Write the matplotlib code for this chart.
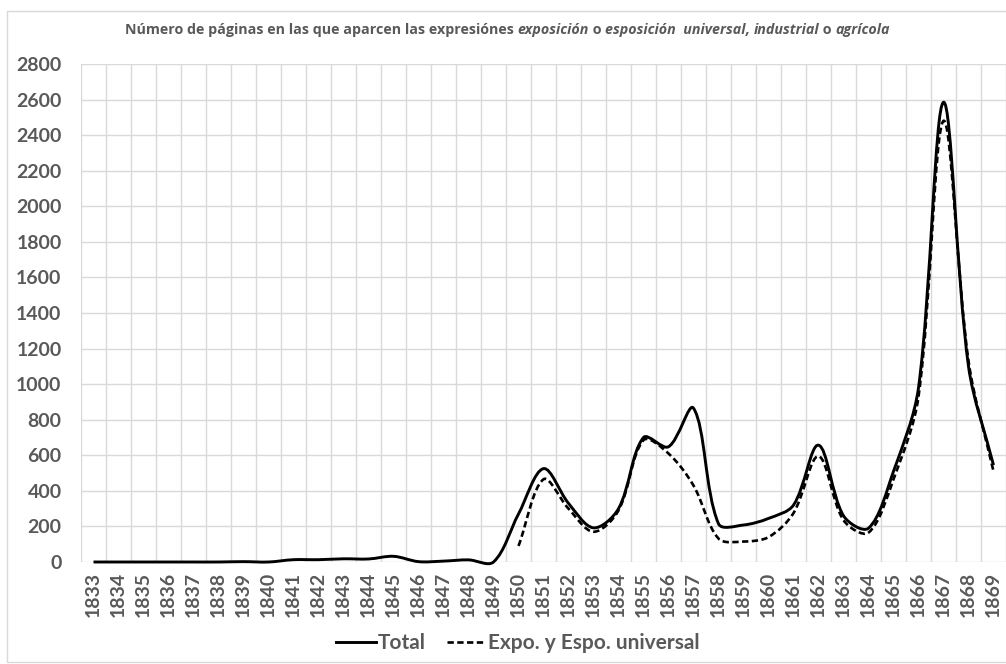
import matplotlib
matplotlib.use("Agg")
import numpy as np
import matplotlib.pyplot as plt
from matplotlib.path import Path
from matplotlib.patches import PathPatch, Rectangle
from matplotlib.lines import Line2D

plt.rcParams['font.family'] = ['Lato', 'DejaVu Sans']

# ---------------- data ----------------
years = list(range(1833, 1870))
total = [0, 0, 0, 0, 0, 0, 2, 0, 13, 13, 18, 17, 32, 2, 5, 12, 0,
         270, 525, 330, 192, 300, 700, 648, 865, 215, 208, 245, 320,
         657, 260, 190, 510, 980, 2585, 1100, 545]
expo_years = list(range(1850, 1870))
expo = [90, 465, 300, 170, 290, 685, 610, 430, 132, 115, 140, 275,
        595, 235, 165, 465, 930, 2480, 1130, 510]
yticks = list(range(0, 2801, 200))
series_names = ["Total", "Expo. y Espo. universal"]

GRAY = "#595959"
GRID = "#d9d9d9"

W, H = 1006, 664
X0, X1, Y0, Y1 = 81, 1006, 562, 64
fig = plt.figure(figsize=(W / 100, H / 100), dpi=100)
ax = fig.add_axes([X0 / W, (H - Y0) / H, (X1 - X0) / W, (Y0 - Y1) / H])
ax.set_xlim(-0.5, len(years) - 0.5)
ax.set_ylim(0, 2800)

# pixel scale factors (smoothing computed in screen space, like Excel)
sx = (X1 - X0) / len(years)
sy = (Y0 - Y1) / 2800.0

def smooth_path(xs, ys):
    P = np.column_stack([np.asarray(xs, float) * sx, np.asarray(ys, float) * sy])
    n = len(P)
    seg = [np.hypot(*(P[i + 1] - P[i])) for i in range(n - 1)]
    fwd, bwd = [], []
    for i in range(n):
        a = P[i - 1] if i > 0 else P[i]
        b = P[i + 1] if i < n - 1 else P[i]
        d = b - a
        lb = seg[i - 1] if i > 0 else 0.0
        lf = seg[i] if i < n - 1 else 0.0
        s = lb + lf
        if s == 0:
            fwd.append(np.zeros(2)); bwd.append(np.zeros(2)); continue
        fwd.append(d * lf / s / 3.0)
        bwd.append(d * lb / s / 3.0)
    verts = [P[0]]
    codes = [Path.MOVETO]
    for i in range(n - 1):
        c1 = P[i] + fwd[i]
        c2 = P[i + 1] - bwd[i + 1]
        verts += [c1, c2, P[i + 1]]
        codes += [Path.CURVE4] * 3
    V = np.array(verts)
    V[:, 0] /= sx
    V[:, 1] /= sy
    return Path(V, codes)

xi_total = [years.index(y) for y in years]
xi_expo = [years.index(y) for y in expo_years]

solid_kw = dict(color="black", lw=2.1, linestyle="-")
dash_kw = dict(color="black", lw=1.9, linestyle=(0, (2.4, 1.3)))

p1 = PathPatch(smooth_path(xi_total, total), fill=False, edgecolor="black",
               lw=solid_kw["lw"], capstyle="butt", joinstyle="round", clip_on=False, zorder=4)
p2 = PathPatch(smooth_path(xi_expo, expo), fill=False, edgecolor="black",
               lw=dash_kw["lw"], linestyle=dash_kw["linestyle"], capstyle="butt",
               clip_on=False, zorder=3)
ax.add_patch(p1)
ax.add_patch(p2)

ax.set_yticks(yticks)
ax.set_yticklabels([str(v) for v in yticks])
ax.set_xticks(range(len(years)))
ax.set_xticklabels([str(y) for y in years], rotation=90)
ax.set_xticks(np.arange(-0.5, len(years), 1), minor=True)

ax.grid(False)
ax.yaxis.grid(True, color=GRID, lw=1.0, zorder=0)
ax.xaxis.grid(True, which="minor", color=GRID, lw=1.0, zorder=0)
ax.set_axisbelow(True)
for s in ax.spines.values():
    s.set_visible(False)

ax.tick_params(axis="both", which="both", length=0)
ax.tick_params(axis="x", which="major", pad=7, labelsize=14, labelcolor=GRAY)
ax.tick_params(axis="y", which="major", pad=14, labelsize=14, labelcolor=GRAY)
for lab in ax.get_xticklabels() + ax.get_yticklabels():
    lab.set_fontweight("bold")

# legend
handles = [Line2D([], [], **solid_kw), Line2D([], [], **dash_kw)]
leg = fig.legend(handles, series_names, loc="center", bbox_to_anchor=(518 / W, 1 - 643 / H),
                 ncol=2, frameon=False, handlelength=1.9, handletextpad=0.1,
                 columnspacing=1.0, prop={"weight": "bold", "size": 15})
for t in leg.get_texts():
    t.set_color(GRAY)

# chart border
fig.patches.append(Rectangle((7 / W, 2 / H), (W - 7) / W + 0.01, (H - 13) / H,
                             transform=fig.transFigure, fill=False,
                             edgecolor=GRID, lw=1.0))

# title composed of normal and italic parts
parts = [("Número de páginas en las que aparcen las expresiónes ", "normal"),
         ("exposición", "italic"), (" o ", "normal"),
         ("esposición  universal", "italic"), (", ", "italic"),
         ("industrial", "italic"), (" o ", "normal"), ("agrícola", "italic")]
fig.canvas.draw()
renderer = fig.canvas.get_renderer()
texts = []
ty = 1 - 30 / H
for s, style in parts:
    t = fig.text(0, ty, s, fontsize=10.25, fontweight="bold", style=style,
                 family=["Open Sans", "DejaVu Sans"],
                 color=GRAY, ha="left", va="center")
    texts.append(t)
widths = [t.get_window_extent(renderer).width / W for t in texts]
total_w = sum(widths)
x = 507.5 / W - total_w / 2
for t, w in zip(texts, widths):
    t.set_x(x)
    x += w

fig.savefig("out.png", dpi=100)
